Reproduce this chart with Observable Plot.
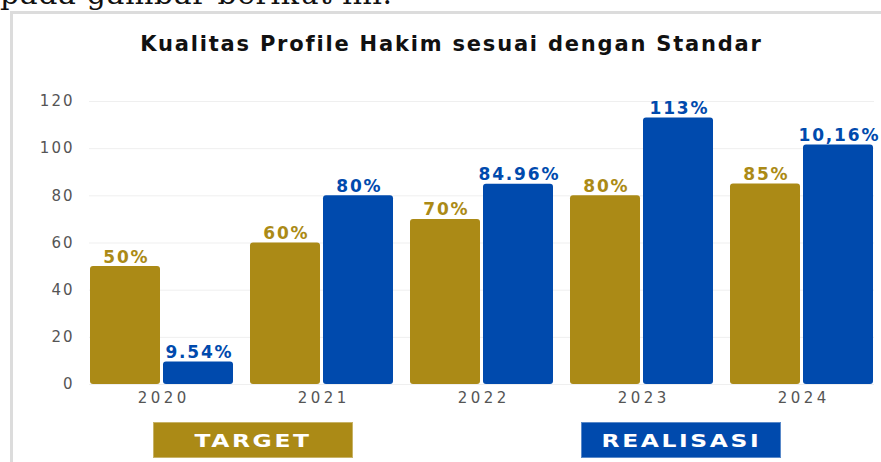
<!DOCTYPE html>
<html><head><meta charset="utf-8">
<script src="https://cdn.jsdelivr.net/npm/d3@7"></script>
<script src="https://cdn.jsdelivr.net/npm/@observablehq/plot@0.6"></script>
<style>
html,body{margin:0;padding:0;background:#fff}
body{width:881px;height:462px;overflow:hidden;position:relative;font-family:"DejaVu Sans",sans-serif}
#doc{position:absolute;left:0;top:-21px;font-family:"DejaVu Serif",serif;font-size:30px;line-height:30px;letter-spacing:0.6px;white-space:nowrap;color:#111}
#frame{position:absolute;left:10px;top:11px;width:900px;height:500px;border-left:3px solid #dcdcdc;border-top:3px solid #dcdcdc}
#title{position:absolute;left:0;width:903px;top:34px;text-align:center;font-weight:bold;font-size:21px;line-height:21px;letter-spacing:1.8px;color:#111;white-space:nowrap}
#chart{position:absolute;left:0;top:60px}
.leg{position:absolute;top:422px;height:36px;width:200px;color:#fff;font-weight:bold;font-size:18px;line-height:36px;text-align:center;box-sizing:border-box;border:1px solid rgba(255,255,255,0.35)}
.leg span{display:inline-block;transform:scaleX(1.3);letter-spacing:2px}
</style></head>
<body>
<div id="doc">pada gambar berikut ini.</div>
<div id="frame"></div>
<div id="title">Kualitas Profile Hakim sesuai dengan Standar</div>
<div id="chart"></div>
<div id="legend"></div>
<script>
const years = ["2020", "2021", "2022", "2023", "2024"];
const seriesNames = ["TARGET", "REALISASI"];
const seriesColors = ["#AB8A16", "#004AAD"];
const targetValues = [50, 60, 70, 80, 85];
const realisasiValues = [9.54, 80, 84.96, 113, 101.6];
const targetLabels = ["50%", "60%", "70%", "80%", "85%"];
const realisasiLabels = ["9.54%", "80%", "84.96%", "113%", "10,16%"];
const yTicks = [0, 20, 40, 60, 80, 100, 120];

const targetRows = years.map((yr, i) => ({year: yr, series: seriesNames[0], value: targetValues[i], label: targetLabels[i]}));
const realRows = years.map((yr, i) => ({year: yr, series: seriesNames[1], value: realisasiValues[i], label: realisasiLabels[i]}));

const half = 73; // px offset of each bar inside its year band
const chart = Plot.plot({
  width: 881,
  height: 350,
  marginLeft: 89,
  marginRight: 7,
  marginTop: 41,
  marginBottom: 26,
  style: {fontFamily: "DejaVu Sans, sans-serif", background: "transparent"},
  x: {domain: years, paddingInner: 0.109, paddingOuter: 0, label: null},
  y: {domain: [0, 120], label: null},
  color: {domain: seriesNames, range: seriesColors},
  marks: [
    Plot.ruleY(yTicks, {stroke: "#efefef", strokeWidth: 1}),
    Plot.axisY({ticks: yTicks, tickSize: 0, tickPadding: 15, fontSize: 15, fill: "#555", label: null, className: "yax"}),
    Plot.axisX({anchor: "bottom", tickSize: 0, tickPadding: 8, fontSize: 15, fill: "#555", label: null, className: "xax"}),
    Plot.rectY(targetRows, {x: "year", y: "value", fill: "series", insetRight: half, rx: 3}),
    Plot.rectY(realRows, {x: "year", y: "value", fill: "series", insetLeft: half, rx: 3}),
    Plot.text(targetRows, {x: "year", y: "value", text: "label", fill: "series", lineAnchor: "bottom", dy: -4, dx: -36.5 + 0.9, fontSize: 17, fontWeight: "bold", className: "blab"}),
    Plot.text(realRows, {x: "year", y: "value", text: "label", fill: "series", lineAnchor: "bottom", dy: -4, dx: 36.5 + 0.9, fontSize: 17, fontWeight: "bold", className: "blab"})
  ]
});
document.getElementById("chart").appendChild(chart);
d3.select(chart).selectAll(".blab text").style("letter-spacing", "1.8px");
d3.select(chart).selectAll(".yax text").style("letter-spacing", "2px");
d3.select(chart).selectAll(".xax text").style("letter-spacing", "3.5px").attr("dx", "1.75");

const legend = d3.select("#legend");
const legLeft = [153, 581];
seriesNames.forEach((s, i) => {
  legend.append("div").attr("class", "leg")
    .style("left", legLeft[i] + "px")
    .style("background", seriesColors[i])
    .append("span").text(s);
});
</script>
</body></html>
